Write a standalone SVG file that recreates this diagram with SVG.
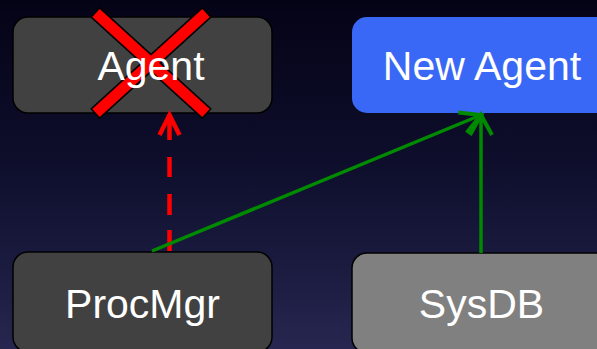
<svg xmlns="http://www.w3.org/2000/svg" width="597" height="349" viewBox="0 0 597 349">
  <defs>
    <linearGradient id="bg" x1="0" y1="0" x2="0" y2="1">
      <stop offset="0" stop-color="#040316"/>
      <stop offset="0.5" stop-color="#0f0f2e"/>
      <stop offset="1" stop-color="#262650"/>
    </linearGradient>
    <marker id="head-red" markerUnits="userSpaceOnUse" viewBox="-30 -20 40 40" markerWidth="40" markerHeight="40" refX="0" refY="0" orient="auto-start-reverse" overflow="visible">
      <path d="M -20,-10 L 0,0 L -20,10" fill="none" stroke="#ff0000" stroke-width="4.5" stroke-linecap="butt" stroke-linejoin="miter"/>
    </marker>
    <marker id="head-green" markerUnits="userSpaceOnUse" viewBox="-30 -20 40 40" markerWidth="40" markerHeight="40" refX="0" refY="0" orient="auto" overflow="visible">
      <path d="M -20,-11 L 0,0 L -20,11" fill="none" stroke="#008a00" stroke-width="4" stroke-linecap="butt" stroke-linejoin="miter"/>
    </marker>
  </defs>
  <style>
    .box { stroke: #000; stroke-width: 1.5; }
    .dark { fill: #414141; }
    .grey { fill: #808080; }
    .blue { fill: #3a68f6; stroke: none; }
    .label { font-family: "Liberation Sans", Arial, sans-serif; font-size: 41px; fill: #fff; text-anchor: middle; }
    .green { fill: none; stroke: #008a00; stroke-width: 3.5; }
    .red { fill: none; stroke: #ff0000; stroke-width: 4.5; }
  </style>

  <rect width="597" height="349" fill="url(#bg)"/>

  <g id="agent">
    <rect class="box dark" x="13" y="17" width="259" height="96" rx="15"/>
    <!-- crossed-out mark -->
    <g stroke-linecap="butt">
      <line x1="94.9" y1="12" x2="207.1" y2="114" stroke="#000" stroke-width="14"/>
      <line x1="207.1" y1="12" x2="94.9" y2="114" stroke="#000" stroke-width="14"/>
      <line x1="96" y1="13" x2="206" y2="113" stroke="#ff0000" stroke-width="11"/>
      <line x1="206" y1="13" x2="96" y2="113" stroke="#ff0000" stroke-width="11"/>
    </g>
    <text class="label" x="151" y="80">Agent</text>
  </g>

  <g id="new-agent">
    <rect class="blue" x="352" y="17" width="260" height="96" rx="15"/>
    <text class="label" x="482" y="80">New Agent</text>
  </g>

  <g id="procmgr">
    <rect class="box dark" x="13" y="252" width="259" height="100" rx="15"/>
    <text class="label" x="142.5" y="318">ProcMgr</text>
  </g>

  <g id="sysdb">
    <rect class="box grey" x="352" y="253" width="260" height="100" rx="15"/>
    <text class="label" x="481.5" y="318">SysDB</text>
  </g>

  <g id="connectors">
    <path class="red" d="M169.5,115 V251" stroke-dasharray="25 17 20 17 21 15 21 100" marker-start="url(#head-red)"/>
    <path class="green" d="M152,251 L481,115" marker-end="url(#head-green)"/>
    <path class="green" d="M481,253 V115" marker-end="url(#head-green)"/>
  </g>
</svg>
